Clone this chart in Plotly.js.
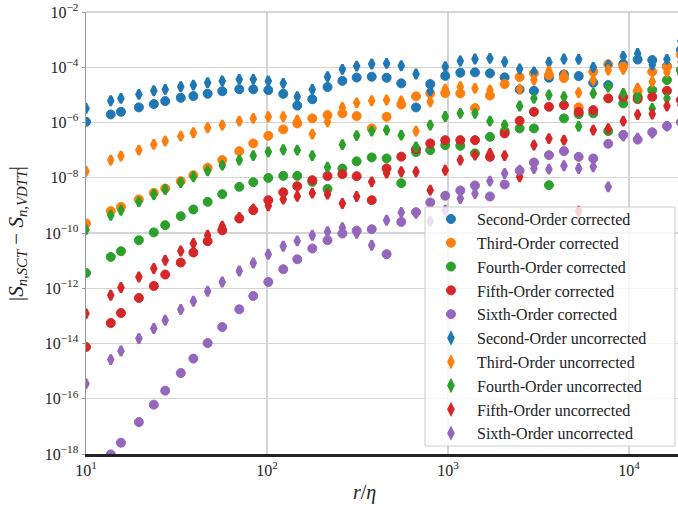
<!DOCTYPE html>
<html>
<head>
<meta charset="utf-8">
<script src="https://cdn.plot.ly/plotly-3.0.1.min.js"></script>
<style>html,body{margin:0;padding:0;background:#fff;}#chart{width:678px;height:508px;}</style>
</head>
<body>
<div id="chart"></div>
<script>
// r/eta sample positions
const rEta = [10, 13.7, 15.6, 19.6, 23.7, 27.4, 33.4, 39.2, 47.0, 56.6, 70.3, 84.0, 101.7, 123, 147, 178, 216, 261, 313, 379, 458, 552, 666, 798, 966, 1170, 1410, 1706, 2057, 2489, 2986, 3614, 4374, 5275, 6350, 7684, 9301, 11171, 13451, 16213, 19365];

const secondCorrected = [1.06e-6, 1.96e-6, 2.44e-6, 3.52e-6, 4.64e-6, 5.96e-6, 7.85e-6, 9.06e-6, 1.10e-5, 1.35e-5, 1.60e-5, 1.59e-5, 1.49e-5, 1.09e-5, 4.09e-6, 6.93e-6, 1.92e-5, 3.21e-5, 4.24e-5, 4.53e-5, 4.17e-5, 2.61e-5, 3.52e-6, 2.46e-5, 4.88e-5, 6.32e-5, 6.53e-5, 6.01e-5, 4.31e-5, 1.56e-5, 1.41e-5, 4.17e-5, 5.53e-5, 4.80e-5, 2.74e-5, 2.26e-5, 1.31e-4, 1.90e-4, 1.82e-4, 1.10e-4, 4.20e-4];
const thirdCorrected = [2.21e-10, 6.17e-10, 8.83e-10, 1.64e-9, 2.84e-9, 4.09e-9, 7.53e-9, 1.24e-8, 2.29e-8, 4.35e-8, 9.20e-8, 1.75e-7, 3.30e-7, 5.62e-7, 9.27e-7, 1.41e-6, 1.85e-6, 2.14e-6, 1.71e-6, 6.11e-7, 1.61e-6, 4.46e-6, 8.83e-6, 1.13e-5, 1.16e-5, 1.13e-5, 3.33e-6, 9.44e-6, 2.46e-5, 4.42e-5, 6.01e-5, 5.21e-5, 4.06e-5, 3.52e-6, 6.87e-5, 1.27e-4, 1.06e-4, 1.37e-5, 6.87e-5, 1.04e-4, 2.77e-4];
const fourthCorrected = [3.58e-12, 1.36e-11, 2.19e-11, 5.48e-11, 1.05e-10, 1.92e-10, 4.06e-10, 7.10e-10, 1.34e-9, 2.55e-9, 4.68e-9, 6.93e-9, 9.84e-9, 1.17e-8, 1.17e-8, 7.10e-9, 3.93e-9, 2.14e-8, 3.93e-8, 5.44e-8, 5.00e-8, 6.37e-9, 8.47e-8, 1.0e-7, 1.52e-7, 1.43e-7, 7.59e-8, 3.03e-7, 4.88e-7, 6.11e-7, 6.11e-7, 5.40e-9, 1.41e-6, 2.01e-6, 2.14e-6, 4.88e-7, 4.92e-6, 8.53e-6, 1.49e-5, 3.44e-5, 7.92e-5];
const fifthCorrected = [7.46e-15, 5.53e-14, 1.27e-13, 4.46e-13, 1.21e-12, 3.13e-12, 8.53e-12, 1.96e-11, 5.05e-11, 1.26e-10, 3.35e-10, 6.70e-10, 1.54e-9, 2.96e-9, 4.97e-9, 8.18e-9, 1.16e-8, 1.35e-8, 1.14e-8, 1.54e-9, 2.17e-8, 5.81e-8, 1.09e-7, 1.75e-7, 2.30e-7, 2.30e-7, 2.30e-7, 5.71e-8, 4.03e-7, 1.15e-6, 2.44e-6, 3.71e-6, 4.27e-6, 2.44e-6, 2.81e-6, 7.46e-6, 8.32e-6, 7.05e-6, 8.53e-6, 1.41e-5, 6.48e-6];
const sixthCorrected = [null, 9.68e-19, 2.56e-18, 1.43e-17, 6.11e-17, 1.96e-16, 8.53e-16, 2.84e-15, 1.04e-14, 3.96e-14, 1.73e-13, 5.26e-13, 1.69e-12, 4.88e-12, 1.12e-11, 2.74e-11, 5.48e-11, 9.59e-11, 1.21e-10, 1.37e-10, 1.71e-11, 2.52e-10, 5.68e-10, 1.27e-9, 2.24e-9, 3.47e-9, 5.26e-9, 2.10e-9, 5.71e-9, 1.81e-8, 3.58e-8, 6.59e-8, 9.20e-8, 5.71e-8, 5.00e-8, 1.69e-7, 3.58e-7, 2.40e-7, 4.42e-7, 7.41e-7, 1.03e-6];

const secondUncorrected = [3.24e-6, 6.11e-6, 7.46e-6, 1.04e-5, 1.41e-5, 1.58e-5, 1.96e-5, 2.26e-5, 2.74e-5, 3.16e-5, 3.65e-5, 3.65e-5, 3.16e-5, 2.61e-5, 8.53e-6, 1.58e-5, 4.53e-5, 8.39e-5, 1.10e-4, 1.31e-4, 1.38e-4, 1.13e-4, 5.68e-5, 1.37e-5, 1.04e-4, 1.68e-4, 1.98e-4, 2.10e-4, 1.58e-4, 8.61e-5, 6.70e-5, 1.51e-4, 1.98e-4, 1.93e-4, 9.91e-5, 1.20e-4, 2.48e-4, 3.13e-4, 1.20e-4, 1.93e-4, 8.89e-4];
const thirdUncorrected = [1.73e-8, 4.35e-8, 6.07e-8, 1.0e-7, 1.61e-7, 2.12e-7, 3.21e-7, 4.24e-7, 6.43e-7, 8.05e-7, 1.12e-6, 1.41e-6, 1.61e-6, 1.61e-6, 1.22e-6, 3.80e-7, 1.06e-6, 3.47e-6, 5.13e-6, 6.11e-6, 6.48e-6, 5.96e-6, 4.88e-7, 5.62e-6, 1.62e-5, 1.96e-5, 1.72e-5, 1.49e-5, 8.05e-7, 1.62e-5, 3.44e-5, 7.28e-5, 5.21e-5, 1.21e-5, 3.44e-5, 7.92e-5, 8.39e-5, 1.76e-5, 2.99e-5, 6.70e-5, 1.54e-4];
const fourthUncorrected = [1.34e-10, 4.42e-10, 6.70e-10, 1.34e-9, 2.48e-9, 3.77e-9, 6.76e-9, 1.08e-8, 1.78e-8, 2.86e-8, 4.35e-8, 6.32e-8, 8.67e-8, 1.03e-7, 1.0e-7, 6.32e-8, 2.42e-8, 1.58e-7, 3.35e-7, 4.88e-7, 5.31e-7, 3.49e-7, 1.29e-7, 8.05e-7, 1.66e-6, 2.14e-6, 2.14e-6, 1.12e-6, 8.05e-7, 3.93e-6, 7.46e-6, 9.84e-6, 8.53e-6, 7.23e-7, 1.13e-5, 1.92e-5, 1.13e-5, 7.66e-6, 3.24e-6, 7.46e-6, 5.68e-5];
const fifthUncorrected = [1.21e-13, 5.57e-13, 1.06e-12, 2.56e-12, 5.18e-12, 1.03e-11, 2.24e-11, 4.17e-11, 8.32e-11, 1.76e-10, 3.65e-10, 7.28e-10, 9.75e-10, 1.68e-9, 2.15e-9, 2.77e-9, 2.55e-9, 1.17e-9, 2.10e-9, 7.10e-9, 1.47e-8, 1.64e-8, 1.64e-8, 3.56e-9, 1.88e-8, 4.35e-8, 6.59e-8, 7.59e-8, 6.32e-8, 1.08e-8, 1.52e-7, 2.61e-7, 2.30e-7, 6.17e-10, 5.31e-7, 6.01e-7, 1.12e-6, 1.93e-6, 2.01e-6, 3.93e-6, 4.27e-6];
const sixthUncorrected = [3.52e-16, 2.61e-15, 5.35e-15, 1.51e-14, 3.47e-14, 6.93e-14, 1.69e-13, 3.38e-13, 7.78e-13, 1.69e-12, 4.24e-12, 8.26e-12, 1.71e-11, 3.33e-11, 5.18e-11, 8.32e-11, 1.11e-10, 1.56e-10, 9.84e-11, 3.61e-11, 2.91e-10, 5.53e-10, 5.21e-10, 2.68e-10, 6.70e-10, 1.78e-9, 2.70e-9, 7.53e-9, 1.43e-8, 1.88e-8, 2.17e-8, 2.05e-8, 2.70e-8, 2.17e-8, 2.48e-8, 4.68e-9, 3.21e-7, 2.72e-7, 4.13e-7, 7.41e-7, 1.22e-6];

const orderNames = ['Second-Order', 'Third-Order', 'Fourth-Order', 'Fifth-Order', 'Sixth-Order'];
const orderColors = ['#1f77b4', '#ff7f0e', '#2ca02c', '#d62728', '#9467bd'];
const correctedSeries = [secondCorrected, thirdCorrected, fourthCorrected, fifthCorrected, sixthCorrected];
const uncorrectedSeries = [secondUncorrected, thirdUncorrected, fourthUncorrected, fifthUncorrected, sixthUncorrected];

const xTickVals = [10, 100, 1000, 10000];
const xTickText = ['10<sup>1</sup>', '10<sup>2</sup>', '10<sup>3</sup>', '10<sup>4</sup>'];
const yTickVals = [1e-18, 1e-16, 1e-14, 1e-12, 1e-10, 1e-8, 1e-6, 1e-4, 1e-2];
const yTickText = ['10<sup>−18</sup>', '10<sup>−16</sup>', '10<sup>−14</sup>', '10<sup>−12</sup>', '10<sup>−10</sup>', '10<sup>−8</sup>', '10<sup>−6</sup>', '10<sup>−4</sup>', '10<sup>−2</sup>'];

const FONT = 'Liberation Serif, Times New Roman, serif';
const traces = [];
correctedSeries.forEach((ys, k) => {
  traces.push({
    type: 'scatter', mode: 'markers', x: rEta, y: ys,
    name: orderNames[k] + ' corrected', legendgroup: 'c' + k,
    marker: {symbol: 'circle', size: 9, color: orderColors[k], line: {width: 1, color: orderColors[k]}}
  });
});
uncorrectedSeries.forEach((ys, k) => {
  traces.push({
    type: 'scatter', mode: 'markers', x: rEta, y: ys,
    name: orderNames[k] + ' uncorrected', legendgroup: 'u' + k,
    marker: {symbol: 'diamond-tall', size: 7, color: orderColors[k], line: {width: 2.5, color: orderColors[k]}}
  });
});

const layout = {
  width: 678, height: 508,
  margin: {l: 86, r: 0, t: 12, b: 54},
  paper_bgcolor: '#ffffff', plot_bgcolor: '#ffffff',
  font: {family: FONT, size: 15, color: '#222'},
  showlegend: true,
  legend: {
    x: 0.5726, y: 0.570, xanchor: 'left', yanchor: 'top',
    bgcolor: 'rgba(255,255,255,0)', borderwidth: 0,
    font: {family: FONT, size: 16, color: '#222'},
    itemwidth: 42, traceorder: 'grouped', tracegroupgap: 0
  },
  xaxis: {
    type: 'log', range: [1, 4.271],
    tickvals: xTickVals, ticktext: xTickText,
    showgrid: true, gridcolor: '#d4d4d4', gridwidth: 1.2,
    showline: true, linecolor: '#222', linewidth: 2.5,
    ticks: '', zeroline: false,
    tickfont: {family: FONT, size: 16, color: '#222'}
  },
  yaxis: {
    type: 'log', range: [-18, -2],
    tickvals: yTickVals, ticktext: yTickText,
    showgrid: true, gridcolor: '#d4d4d4', gridwidth: 1.2,
    showline: true, linecolor: '#999', linewidth: 1.5,
    ticks: 'outside', ticklen: 3, tickcolor: '#999', tickwidth: 1,
    zeroline: false,
    tickfont: {family: FONT, size: 16, color: '#222'}
  },
  shapes: [
    {type: 'line', xref: 'paper', yref: 'paper', x0: 0, x1: 1, y0: 1, y1: 1, line: {color: '#c8c8c8', width: 1.5}},
    {type: 'rect', xref: 'paper', yref: 'paper', layer: 'above', x0: 0.5726, x1: 0.995, y0: 0.0181, y1: 0.5588,
     fillcolor: 'rgba(255,255,255,0.8)', line: {color: '#cccccc', width: 1}}
  ],
  annotations: [
    {text: '<i>r</i>/<i>η</i>', xref: 'paper', yref: 'paper', x: 0.47, y: -0.088, xanchor: 'center', yanchor: 'middle', showarrow: false, font: {family: FONT, size: 20, color: '#222'}},
    {text: '|<i>S</i><sub><i>n,SCT</i></sub> − <i>S</i><sub><i>n,VDTT</i></sub>|', xref: 'paper', yref: 'paper', x: -0.1166, y: 0.5, xanchor: 'center', yanchor: 'middle', textangle: -90, showarrow: false, font: {family: FONT, size: 21, color: '#222'}}
  ]
};

Plotly.newPlot('chart', traces, layout, {displayModeBar: false, staticPlot: true});
</script>
</body>
</html>
